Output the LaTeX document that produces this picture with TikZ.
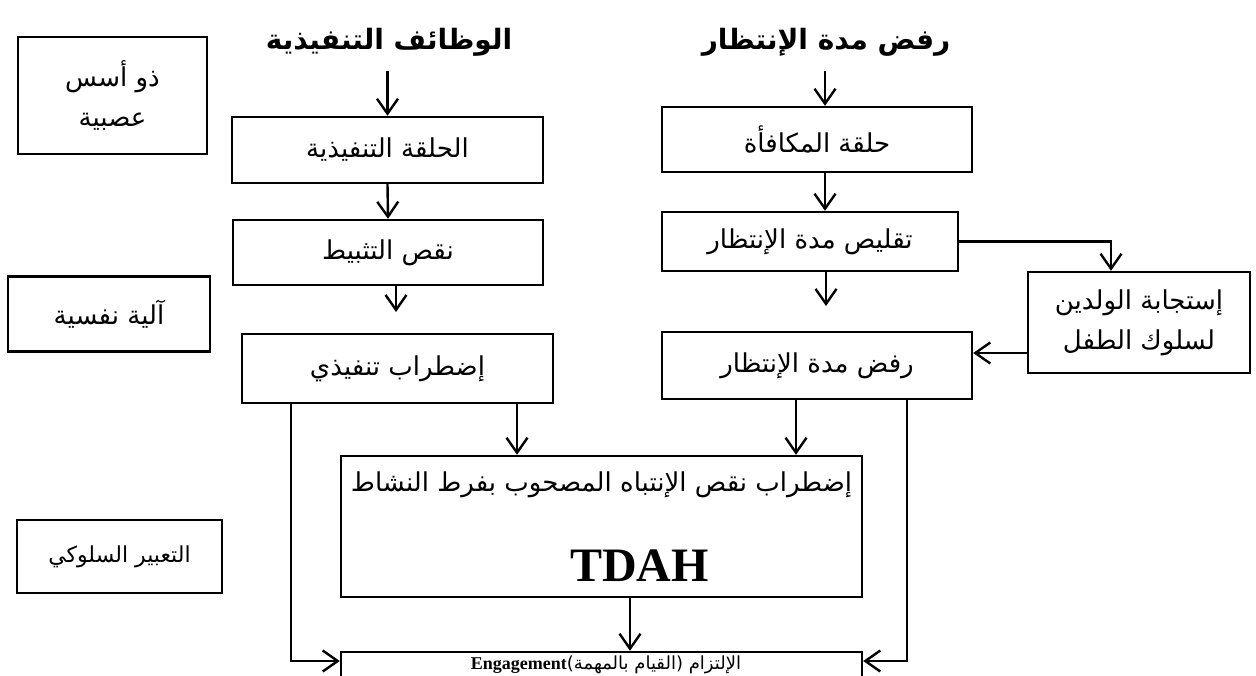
\documentclass[tikz,border=0pt]{standalone}
\usepackage{fontspec}
\setmainfont{Liberation Serif}
\newfontfamily\arabicfont[Script=Arabic]{DejaVu Sans}
\TeXXeTstate=1
\usetikzlibrary{arrows.meta}
\newcommand{\ar}[1]{{\arabicfont\beginR #1\endR}}

\begin{document}
\begin{tikzpicture}[x=0.5pt,y=-0.5pt]
			\tikzstyle{Box}		= [rectangle, draw, line width=1.2pt, inner sep=2pt, align=center, font=\fontsize{13}{20}\selectfont]
			\tikzstyle{Small}	= [font=\fontsize{11}{14}\selectfont]
			\tikzstyle{Title}	= [font=\fontsize{14}{18}\selectfont\bfseries]
			\tikzstyle{Arr}		= [-{Straight Barb[length=7.5pt,width=10.5pt,line width=1.2pt]}, line width=1.2pt]

			\useasboundingbox (0,0) rectangle (1256,675);

			% titles
			\node (t1) at (389,42) [Title] {\ar{الوظائف التنفيذية}};
			\node (t2) at (826,42) [Title] {\ar{رفض مدة الإنتظار}};

			% levels
			\node (a1) at (112.5,95.5) [Box, minimum width=94.5pt, minimum height=58.5pt] {\ar{ذو أسس}\\\ar{عصبية}};
			\node (a2) at (109,314) [Box, minimum width=101pt, minimum height=37.5pt] {\ar{آلية نفسية}};
			\node (a3) at (119.5,556.5) [Box, Small, minimum width=102.5pt, minimum height=36.5pt] {\ar{التعبير السلوكي}};

			% left column
			\node (b1) at (387.5,150) [Box, minimum width=155.5pt, minimum height=33pt] {\ar{الحلقة التنفيذية}};
			\node (b2) at (388,252.5) [Box, minimum width=155pt, minimum height=32.5pt] {\ar{نقص التثبيط}};
			\node (b3) at (397.5,368.5) [Box, minimum width=155.5pt, minimum height=34.5pt] {\ar{إضطراب تنفيذي}};
			\coordinate (b3tip) at (396,312);

			% right column
			\node (c1) at (817,139.5) [Box, minimum width=155pt, minimum height=32.5pt] {\ar{حلقة المكافأة}};
			\node (c2) at (810,241.5) [Box, minimum width=148pt, minimum height=29.5pt] {\ar{تقليص مدة الإنتظار}};
			\node (c4) at (817,365.5) [Box, minimum width=155pt, minimum height=33.5pt] {\ar{رفض مدة الإنتظار}};
			\coordinate (c4tip) at (826,306);
			\node (d) at (1139,322.5) [Box, minimum width=111pt, minimum height=50.5pt] {\ar{إستجابة الولدين}\\\ar{لسلوك الطفل}};

			% bottom
			\node (e) at (601.5,526.5) [Box, minimum width=260.5pt, minimum height=70.5pt] {\ar{إضطراب نقص الإنتباه المصحوب بفرط النشاط}\\[25pt]\hspace*{38pt}{\rmfamily\bfseries\fontsize{24}{24}\selectfont TDAH}};
			\node (f) at (601.5,680) [Box, minimum width=260.5pt, minimum height=28pt] {};
			\node (ftext) at (606,674.5) [anchor=south, inner sep=0pt, font=\fontsize{9}{11}\selectfont] {\beginR{\arabicfont الإلتزام (القيام بالمهمة)}\beginL{\rmfamily\bfseries Engagement}\endL\endR};

			\draw [Arr] (b1.north) ++(0,-45) -- (b1.north);
			\draw [Arr] (c1.north -| 825,0) ++(0,-35) -- (c1.north -| 825,0);
			\draw [Arr] (b1.south) -- (b2.north);
			\draw [Arr] (b2.south -| b3tip) -- (b3tip);
			\draw [Arr] (c1.south -| 825,0) -- (c2.north -| 825,0);
			\draw [Arr] (c2.south -| c4tip) -- (c4tip);
			\draw [Arr] (c2.east) -| (d.north -| 1111,0);
			\draw [Arr] (d.west |- 0,353) -- (c4.east |- 0,353);
			\draw [Arr] (b3.south -| 517,0) -- (e.north -| 517,0);
			\draw [Arr] (c4.south -| 796,0) -- (e.north -| 796,0);
			\draw [Arr] (e.south -| 630,0) -- (f.north -| 630,0);
			\draw [Arr] (b3.south -| 291,0) |- (f.west |- 0,661);
			\draw [Arr] (c4.south -| 907,0) |- (f.east |- 0,661);
		\end{tikzpicture}
\end{document}
